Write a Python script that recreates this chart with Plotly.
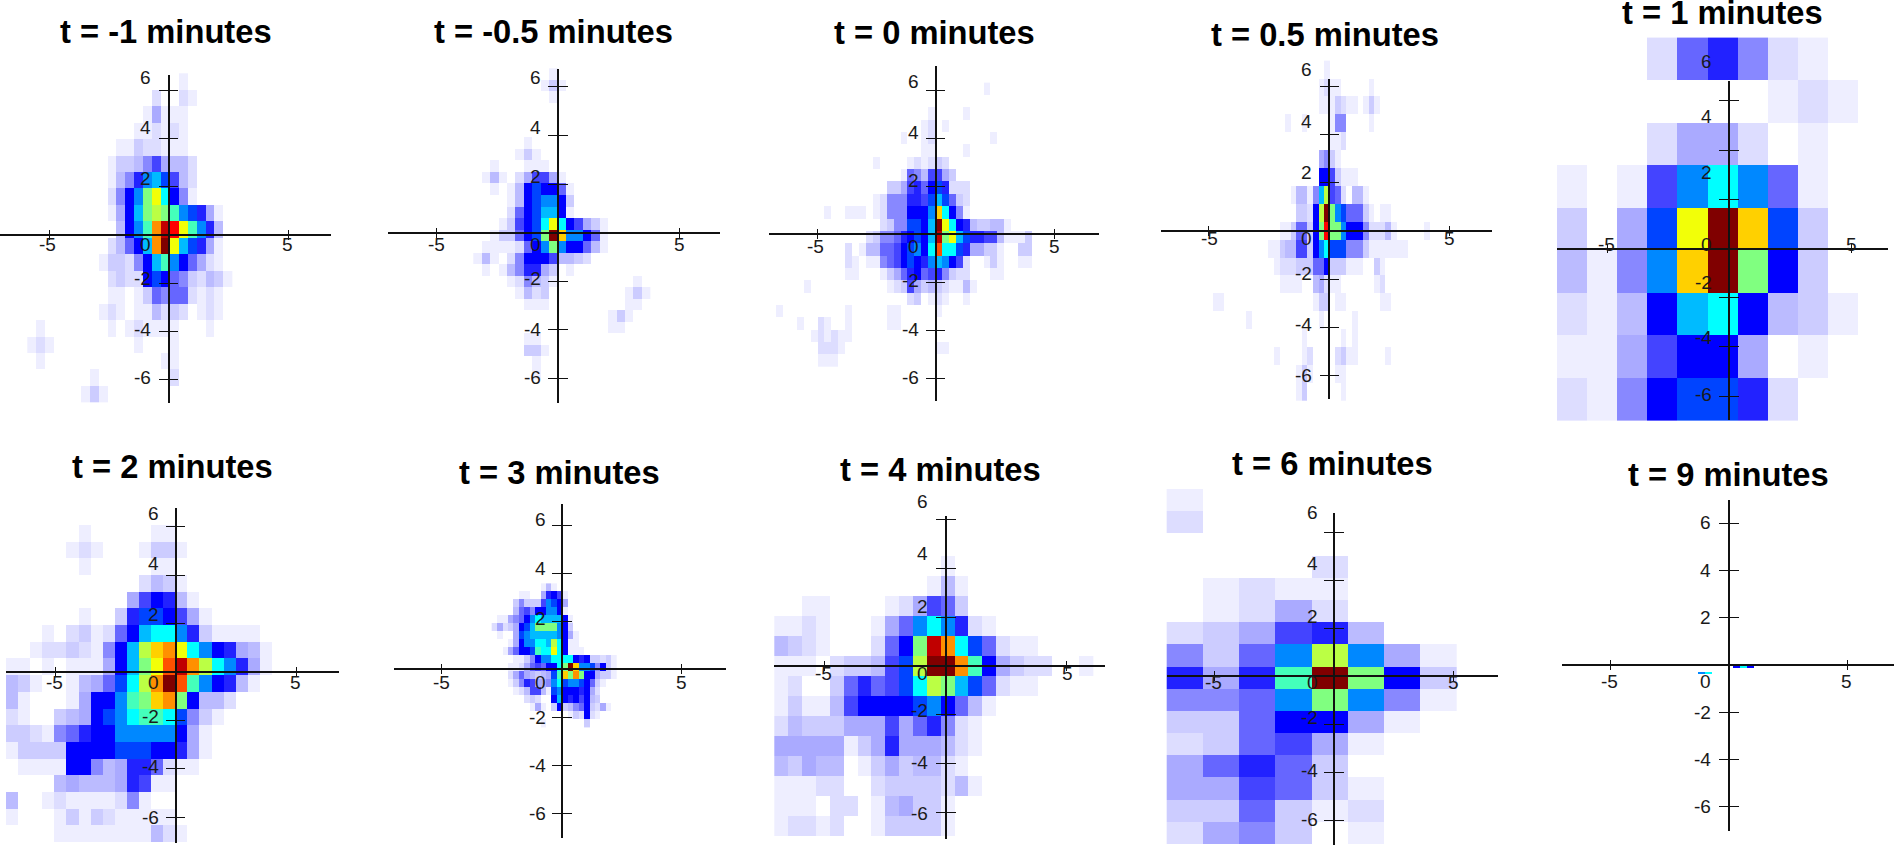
import plotly.graph_objects as go

W, H = 1895, 845

TITLES = ["t = -1 minutes", "t = -0.5 minutes", "t = 0 minutes", "t = 0.5 minutes", "t = 1 minutes",
          "t = 2 minutes", "t = 3 minutes", "t = 4 minutes", "t = 6 minutes", "t = 9 minutes"]

# Cell values, one string per row, top to bottom. "col:codes" gives codes from column col on;
# a code is a base-36 intensity level from 0 (empty) to o = 24 (peak).
P1_ROWS = ["17:1", "14:2 17:21", "13:15111", "12:112121", "10:11322111", "9:1334685442",
           "9:1469cdb842", "9:26acgiea61", "9:15adghgfcb951", "10:4acfknmifc94",
           "9:247adkoidb951", "8:13326adfca7521", "9:2322aba7632431", "9:1101376772121",
           "8:12101142320121", "1:1 9:1 11:121111 20:1", "0:121 12:1 16:1", "1:1 15:11",
           "7:1 16:2", "6:131"]
P2_ROWS = ["9:1", "8:131", "9:1", "", "", "", "6:1", "5:131", "2:1 6:111", "1:141 5:258851",
           "2:1 4:14abaa71", "4:14abcca3", "4:27abdda1", "3:138abeiea8531", "2:1337abgojcca71",
           "1:111127acgcaa741", "0:141 4:26aaa84432", "1:1 3:1469953 11:1", "4:126431 19:1",
           "5:1423 18:131", "6:111 18:11", "16:131", "16:11", "6:11", "6:331", "7:1", "7:1"]
P3_ROWS = ["30:1", "", "22:1 27:1", "21:12 24:1", "18:1 21:12 31:1", "21:11 27:1",
           "14:1 19:121232", "18:17648853", "16:335897ab9222", "14:12666998bdb732",
           "7:1 10:111 14:12666aaacjea61", "15:2366bbadoiea9433441",
           "13:236679abadngidb998841113", "10:2 12:144778abcaeleeb9553310033",
           "10:21 13:11 15:678aba9cdca82 30:131 35:11", "10:11 15:13579a7896322 31:11",
           "4:1 16:1238534321141", "19:23 22:12 24:1 27:1", "0:1 10:1 16:11 23:1",
           "3:1 6:21 10:1 16:11", "5:121211", "6:22 8:21 23:11", "6:111"]
P4_ROWS = ["23:1", "22:1211 31:1", "22:1113211 30:131", "16:1 19:1 24:166 31:1", "24:112",
           "22:5631", "22:aa83111", "17:14416dh872 28:441", "18:332ahogcb77731011",
           "15:113773agmggcaaa622241 41:1", "13:11344883acebbb66631111111",
           "14:122233377a333111 32:31", "15:1111 21:45211 32:12", "3:11 21:133 25:11 33:11",
           "9:1 22:1 28:1", "19:1 26:1 28:1", "14:1 19:12 25:2311 34:1", "18:131 25:11",
           "18:13 26:1"]
P5_ROWS = ["0002796210", "0000000121", "0002552010", "1018cec710", "305biojb30",
           "416cjoga30", "214adea431", "1158aa5010", "216abb9200"]
P6_ROWS = ["6:1 12:11", "5:121 11:1331", "6:1 12:11", "11:2431", "10:58a941", "6:1 9:39bba851",
           "3:1 5:23127adeec931111", "2:1223216adhjkieca9541", "0:11 3:1 5:1115adgilnkhec951",
           "0:431 5:1457behkolfca941", "0:41 5:15aacfgjkga442", "0:21 4:345abceffeb631",
           "0:3321679aaccccca51", "0:13333aaaabbbaa951", "1:1111aa645997211", "4:4544459811",
           "0:4 3:121111261", "0:1 4:1313211111", "4:11111111421"]
P7_ROWS = ["9:141", "5:11 9:59a81", "4:363338cba5", "4:4786aacca1", "1:11567acedddda1",
           "0:25235abdggggca3", "1:1 4:5bcdddddca51", "3:15acceedhea11", "2:157aabfeeiea111",
           "4:1136acceeeea9a33231", "3:1125787aaegojccb6a31", "3:25754345bfjgkgaa5331",
           "3:13698556cebccba731", "4:1248841bcaaa9a52", "6:232 11:ada9a8a43",
           "7:151 11:3a3467a3251", "14:132a21", "9:1 17:3"]
P8_ROWS = ["12:1", "11:141", "2:11 8:125873", "0:1121 7:157cec921", "0:4321 7:27agnkeb7211",
           "0:111 4:23348bhookfa5322 22:1", "0:12 4:37978behgdb7211", "0:131148aaaabca741",
           "0:243335558579621", "0:555551359555421", "0:43544013534421", "0:111220023333241",
           "0:1110220145331", "0:1221200133331"]
P9_ROWS = ["0:1", "0:2", "", "4:2", "1:1211", "1:1252", "0:235894", "0:637chc51", "0:959foga3",
           "0:667cgc61", "0:337aa51", "0:237851", "0:57973", "0:558731", "0:337312", "0:256301"]
P10_ROWS = ["00000aea", "", "", "ce"]
ALL_ROWS = [P1_ROWS, P2_ROWS, P3_ROWS, P4_ROWS, P5_ROWS, P6_ROWS, P7_ROWS, P8_ROWS, P9_ROWS, P10_ROWS]

LEVEL_COLORS = ["#FFFFFF", "#EEEEFF", "#DDDDFF", "#CCCCFF", "#BBBBFF", "#AAAAFF", "#8888FF", "#6666FF",
                "#4444FF", "#2222FF", "#0000FF", "#0044FF", "#0088FF", "#00BBFF", "#00FFFF", "#44FFBB",
                "#80FF80", "#BBFF44", "#F2FF08", "#FFD000", "#FF9000", "#FF5000", "#FF0000", "#C00000",
                "#800000"]
COLORSCALE = [[i / 24, c] for i, c in enumerate(LEVEL_COLORS)]

X_TICKS = [-5, 5]
Y_TICKS = [-6, -4, -2, 2, 4, 6]
Y_LABELS = [6, 4, 2, 0, -2, -4, -6]

# Pixel geometry: axis origin and scale, axis-line extents, first cell corner and cell size.
GEOM = [
    dict(cx=168.5, sx=23.9, cy=235.0, sy=24.1, xs=(0, 331), ys=(75, 403), g=(27.3, 8.93, 73.3, 16.47)),
    dict(cx=557.7, sx=24.3, cy=232.7, sy=24.3, xs=(388, 720), ys=(69, 403), g=(473.3, 8.43, 68.3, 11.5)),
    dict(cx=935.5, sx=23.7, cy=234.0, sy=24.0, xs=(769, 1099), ys=(66, 401), g=(776.0, 6.93, 82.7, 12.33)),
    dict(cx=1329.3, sx=24.1, cy=231.0, sy=24.1, xs=(1161, 1492), ys=(79, 399), g=(1196.0, 5.57, 60.7, 17.9)),
    dict(cx=1729.0, sx=24.4, cy=248.5, sy=24.6, xs=(1557, 1888), ys=(80.6, 420.4), g=(1557.0, 30.1, 37.6, 42.53)),
    dict(cx=175.5, sx=24.1, cy=672.0, sy=24.2, xs=(6, 339), ys=(508, 843), g=(6.0, 12.07, 525.0, 16.7)),
    dict(cx=561.8, sx=24.0, cy=669.0, sy=24.0, xs=(394, 726), ys=(504, 838), g=(491.7, 5.43, 583.4, 8.0)),
    dict(cx=945.7, sx=24.2, cy=666.0, sy=24.4, xs=(774, 1105), ys=(516, 839), g=(774.3, 13.87, 556.0, 20.0)),
    dict(cx=1334.0, sx=23.9, cy=676.0, sy=24.0, xs=(1167, 1498), ys=(513, 845), g=(1166.7, 36.3, 489.0, 22.2)),
    dict(cx=1729.0, sx=23.7, cy=665.0, sy=23.66, xs=(1562, 1894), ys=(500, 830.6), g=(1698.0, 7.0, 666.0, 2.0)),
]
# Title centres; tick-label positions (they sit off the ticks in the original).
TITLE_POS = [(166, 32), (553, 32), (934, 33), (1325, 35), (1722, 13),
             (172, 467), (559, 472), (940, 469), (1332, 464), (1728, 474)]
XLAB_POS = [(47.7, 287, 245), (436, 679, 245), (815.7, 1054, 246), (1209, 1449, 239), (1606, 1851, 244.6),
            (54, 295.3, 682), (441, 681.7, 682), (823, 1067, 673), (1213, 1453, 682), (1609, 1846, 681.7)]
YLAB_RIGHT = [153, 543, 921, 1314, 1714, 161, 548, 930, 1320, 1713]
YLAB_Y = [(77, 127, 178, 245, 278, 329, 378), (77, 127, 177, 245, 278, 329, 378),
          (81, 132, 181, 246, 280, 329, 378), (70, 122, 172, 239, 274, 325, 375),
          (62, 117, 172, 244.6, 282, 337.6, 394), (513, 563, 614, 682, 716, 766, 817),
          (519, 568, 618, 682, 717, 765, 813), (501, 553, 606, 673, 710, 762, 813),
          (512, 563, 616, 682, 717, 770, 819), (522.6, 570, 617, 681.7, 712, 759, 806.5)]


def decode(rows):
    grid = []
    for row in rows:
        cells = {}
        if ":" not in row:
            cells.update({i: int(c, 36) for i, c in enumerate(row)})
        else:
            for part in row.split():
                start, codes = part.split(":")
                cells.update({int(start) + i: int(c, 36) for i, c in enumerate(codes)})
        grid.append(cells)
    ncol = max((max(c) + 1 for c in grid if c), default=0)
    return [[(c.get(i) or None) for i in range(ncol)] for c in grid]


fig = go.Figure()
layout = {}
annotations = []

for i, (rows, g) in enumerate(zip(ALL_ROWS, GEOM)):
    cx, sx, cy, sy = g["cx"], g["sx"], g["cy"], g["sy"]
    gx, gdx, gy, gdy = g["g"]
    grid = decode(rows)
    n = i + 1
    m = i + 11
    # hidden axes covering the whole page: cells may leave the drawn axis lines
    layout[f"xaxis{n}"] = dict(domain=[0, 1], range=[(0 - cx) / sx, (W - cx) / sx], visible=False,
                               anchor=f"y{n}", fixedrange=True)
    layout[f"yaxis{n}"] = dict(domain=[0, 1], range=[(cy - H) / sy, cy / sy], visible=False,
                               anchor=f"x{n}", fixedrange=True)
    fig.add_trace(go.Heatmap(
        z=grid[::-1],
        x0=(gx + gdx / 2 - cx) / sx, dx=gdx / sx,
        y0=(cy - (gy + gdy * (len(grid) - 0.5))) / sy, dy=gdy / sy,
        zmin=0, zmax=24, colorscale=COLORSCALE, showscale=False, hoverongaps=False,
        xaxis=f"x{n}", yaxis=f"y{n}",
    ))
    # visible crossing axes
    x0, x1 = g["xs"]
    y0, y1 = g["ys"]
    layout[f"xaxis{m}"] = dict(
        domain=[x0 / W, x1 / W], range=[(x0 - cx) / sx, (x1 - cx) / sx], anchor="free", position=1 - cy / H,
        showline=True, linecolor="#111111", linewidth=1.6, showgrid=False, zeroline=False,
        tickmode="array", tickvals=X_TICKS, ticks="outside", ticklen=4, tickwidth=1.2, tickcolor="#111111",
        showticklabels=False, fixedrange=True,
        minor=dict(ticks="inside", tickmode="array", tickvals=X_TICKS, ticklen=4, tickwidth=1.2,
                   tickcolor="#111111", showgrid=False),
    )
    layout[f"yaxis{m}"] = dict(
        domain=[1 - y1 / H, 1 - y0 / H], range=[(cy - y1) / sy, (cy - y0) / sy], anchor="free", position=cx / W,
        showline=True, linecolor="#111111", linewidth=1.6, showgrid=False, zeroline=False,
        tickmode="array", tickvals=Y_TICKS, ticks="outside", ticklen=9, tickwidth=1.4, tickcolor="#111111",
        showticklabels=False, fixedrange=True,
        minor=dict(ticks="inside", tickmode="array", tickvals=Y_TICKS, ticklen=9, tickwidth=1.4,
                   tickcolor="#111111", showgrid=False),
    )
    fig.add_trace(go.Scatter(x=[None], y=[None], mode="lines", hoverinfo="skip", showlegend=False,
                             xaxis=f"x{m}", yaxis=f"y{m}"))

    tx, ty = TITLE_POS[i]
    annotations.append(dict(text=TITLES[i], xref="paper", yref="paper", x=tx / W, y=1 - ty / H, showarrow=False,
                            xanchor="center", yanchor="middle",
                            font=dict(family="Liberation Sans", size=32.7, color="#000000", weight=700)))
    lx0, lx1, ly = XLAB_POS[i]
    for val, px in zip(X_TICKS, (lx0, lx1)):
        annotations.append(dict(text=str(val), xref="paper", yref="paper", x=px / W, y=1 - ly / H, showarrow=False,
                                xanchor="center", yanchor="middle",
                                font=dict(family="Liberation Sans", size=19, color="#1A1A1A")))
    for val, py in zip(Y_LABELS, YLAB_Y[i]):
        annotations.append(dict(text=str(val), xref="paper", yref="paper", x=YLAB_RIGHT[i] / W, y=1 - py / H,
                                showarrow=False, xanchor="right", yanchor="middle",
                                font=dict(family="Liberation Sans", size=19, color="#1A1A1A")))

fig.update_layout(width=W, height=H, margin=dict(l=0, r=0, t=0, b=0), paper_bgcolor="#FFFFFF",
                  plot_bgcolor="rgba(0,0,0,0)", showlegend=False, annotations=annotations, **layout)
fig.write_html("out.html", post_script="document.body.style.margin='0';document.documentElement.style.overflow='hidden';",
               config={"displayModeBar": False})
